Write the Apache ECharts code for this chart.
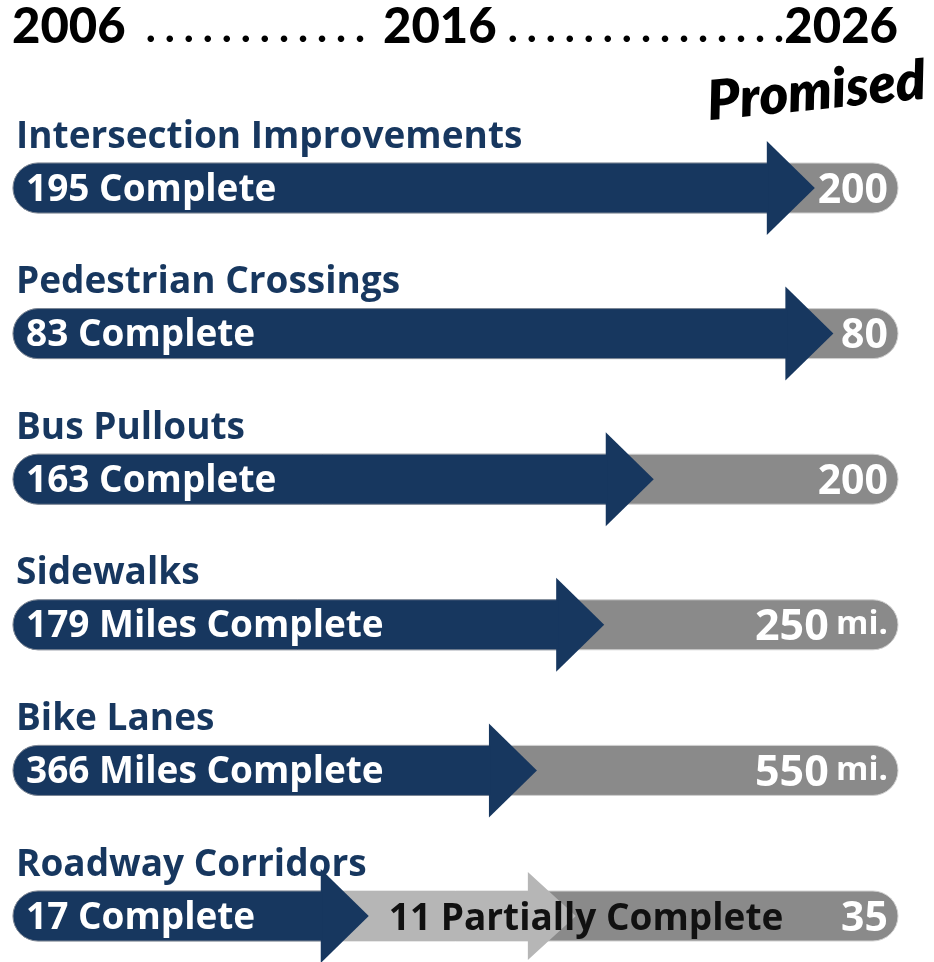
<!DOCTYPE html>
<html>
<head>
<meta charset="utf-8">
<script src="https://cdn.jsdelivr.net/npm/echarts@6/dist/echarts.min.js"></script>
<style>
  html, body { margin: 0; padding: 0; background: #fff; }
  #chart { width: 934px; height: 962px; }
</style>
</head>
<body>
<div id="chart"></div>
<script>
// rows, top to bottom
const categories = ['Intersection Improvements', 'Pedestrian Crossings', 'Bus Pullouts', 'Sidewalks', 'Bike Lanes', 'Roadway Corridors'];
const completed = [195, 83, 163, 179, 366, 17];
const promised = [200, 80, 200, 250, 550, 35];
const completeUnit = ['', '', '', 'Miles ', 'Miles ', ''];
const promisedUnit = ['', '', '', 'mi.', 'mi.', ''];
// where the arrow tip sits along the bar, % of the track (as drawn in the graphic)
const arrowTip = [90.6, 92.7, 72.4, 66.8, 59.2, 40.2];
// partially complete (only roadway corridors)
const partial = [0, 0, 0, 0, 0, 11];
const partialTip = [0, 0, 0, 0, 0, 63.6];
const yearLabels = ['2006', '2016', '2026'];

const NAVY = '#17375f';
const GRAY = '#8a8a8a';
const LIGHT = '#b6b6b6';
const FONT = '"Open Sans"';

const chart = echarts.init(document.getElementById('chart'));

function renderRow(params, api) {
  const row = api.value(1);
  const tip = api.value(0);
  const ptip = api.value(2);
  const i = params.dataIndex;
  const left = api.coord([0, row]);
  const right = api.coord([100, row]);
  const tipX = api.coord([tip, row])[0];
  const cy = left[1];
  const h = 50, head = 48, headH = 47;
  const kids = [];

  // gray track
  kids.push({ type: 'rect', shape: { x: left[0], y: cy - h / 2, width: right[0] - left[0], height: h, r: h / 2 },
    style: { fill: GRAY, stroke: '#d0d0d0', lineWidth: 1 } });

  // partially complete arrow (behind the main one)
  if (partial[i] > 0) {
    const px = api.coord([ptip, row])[0];
    kids.push({ type: 'polygon', shape: { points: [
      [tipX - 40, cy - h / 2], [px - head, cy - h / 2], [px - head, cy - 44], [px, cy],
      [px - head, cy + 44], [px - head, cy + h / 2], [tipX - 40, cy + h / 2]] },
      style: { fill: LIGHT } });
  }

  // completed arrow
  kids.push({ type: 'rect', shape: { x: left[0], y: cy - h / 2, width: tipX - head - left[0] + 1, height: h, r: [h / 2, 0, 0, h / 2] },
    style: { fill: NAVY, stroke: '#7d8796', lineWidth: 1 } });
  kids.push({ type: 'polygon', shape: { points: [[tipX - head, cy - headH], [tipX, cy], [tipX - head, cy + headH]] },
    style: { fill: NAVY } });
  kids.push({ type: 'rect', shape: { x: left[0] + 2, y: cy - h / 2 + 1, width: tipX - head - left[0], height: h - 2, r: [h / 2 - 1, 0, 0, h / 2 - 1] },
    style: { fill: NAVY } });

  // row title
  kids.push({ type: 'text', style: { x: left[0] + 3, y: cy - 51, text: categories[i], fill: NAVY,
    fontFamily: FONT, fontWeight: 700, fontSize: 37, verticalAlign: 'middle' } });

  // completed label
  kids.push({ type: 'text', style: { x: left[0] + 13, y: cy + 2, text: completed[i] + ' ' + completeUnit[i] + 'Complete',
    fill: '#fff', fontFamily: FONT, fontWeight: 700, fontSize: 37, verticalAlign: 'middle' } });

  if (partial[i] > 0) {
    kids.push({ type: 'text', style: { x: tipX + 20, y: cy + 3, text: partial[i] + ' Partially Complete',
      fill: '#111', fontFamily: FONT, fontWeight: 700, fontSize: 37, verticalAlign: 'middle' } });
  }

  // promised total
  const unit = promisedUnit[i];
  kids.push({ type: 'text', style: {
    x: right[0] - 10, y: cy + 3,
    text: unit ? '{a|' + promised[i] + '} {b|' + unit + '}' : '{a|' + promised[i] + '}',
    align: 'right', verticalAlign: 'middle',
    rich: {
      a: { fill: '#fff', fontFamily: FONT, fontWeight: 700, fontSize: unit ? 43 : 41 },
      b: { fill: '#fff', fontFamily: FONT, fontWeight: 700, fontSize: 33, verticalAlign: 'top', padding: [2, 0, 0, 4] }
    } } });

  return { type: 'group', children: kids };
}

const yearFont = '900 49px Lato';
const dotFont = '900 40px Lato';

chart.setOption({
  animation: false,
  grid: { left: 13, right: 36, top: 188, bottom: 46 },
  xAxis: { type: 'value', min: 0, max: 100, show: false },
  yAxis: { type: 'category', data: categories, inverse: true, boundaryGap: false, show: false },
  graphic: [
    { type: 'text', left: 12, top: 3, style: { text: yearLabels[0], fill: '#000', font: yearFont } },
    { type: 'text', left: 146, top: 9, style: { text: '. . . . . . . . . . . .', fill: '#000', font: dotFont } },
    { type: 'text', left: 383, top: 3, style: { text: yearLabels[1], fill: '#000', font: yearFont } },
    { type: 'text', left: 508, top: 9, style: { text: '. . . . . . . . . . . . . . . .', fill: '#000', font: dotFont } },
    { type: 'text', right: 36, top: 3, style: { text: yearLabels[2], fill: '#000', font: yearFont } },
    { type: 'text', x: 710, y: 130, rotation: 0.1, style: { text: 'Promised', fill: '#000', font: 'italic 800 55px Lato', textVerticalAlign: 'bottom' } }
  ],
  series: [{
    type: 'custom',
    renderItem: renderRow,
    encode: { x: 0, y: 1 },
    data: categories.map((c, i) => [arrowTip[i], i, partialTip[i]])
  }]
});
</script>
</body>
</html>
